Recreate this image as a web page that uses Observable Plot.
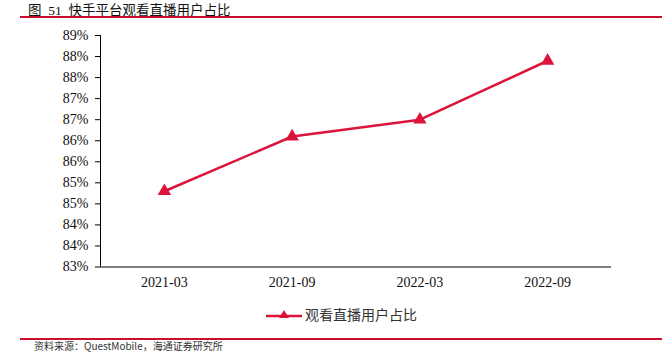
<!DOCTYPE html>
<html><head><meta charset="utf-8">
<script src="https://cdn.jsdelivr.net/npm/d3@7"></script>
<script src="https://cdn.jsdelivr.net/npm/@observablehq/plot@0.6"></script>
<style>
body{margin:0;background:#fff;}
#wrap{position:relative;width:672px;height:354px;overflow:hidden;background:#fff;font-family:"Liberation Serif","Noto Sans CJK SC",serif;}
#title{position:absolute;left:28px;top:-1px;font-size:13.5px;color:#111;font-family:"Liberation Serif","Noto Sans CJK SC",serif;white-space:pre;}
.rl{position:absolute;left:20px;width:642px;height:2px;background:#c8102e;}
#chart{position:absolute;left:0;top:0;}
#chart svg text{font-family:"Liberation Serif",serif !important;}
#legend{position:absolute;left:266px;top:304px;height:20px;display:flex;align-items:center;font-family:"Noto Sans CJK SC",sans-serif;font-size:14px;color:#333;}
#footer{position:absolute;left:34px;top:340px;font-size:10px;line-height:11px;color:#333;font-family:"Noto Sans CJK SC",sans-serif;white-space:pre;}
</style></head>
<body>
<div id="wrap">
<div id="title">图  51  快手平台观看直播用户占比</div>
<div class="rl" style="top:16px"></div>
<div id="chart"></div>
<div id="legend"><svg width="36" height="14"><line x1="0" y1="9" x2="36" y2="9" stroke="#dc143c" stroke-width="2.5"/><path d="M18,3 L23,11 L13,11 Z" fill="#dc143c"/></svg><span style="margin-left:3px">观看直播用户占比</span></div>
<div class="rl" style="top:338px"></div>
<div id="footer">资料来源：QuestMobile，海通证券研究所</div>
</div>
<script>
const categories = ["2021-03", "2021-09", "2022-03", "2022-09"];
const values = [84.8, 86.1, 86.5, 87.9];
const yTicks = [83, 83.5, 84, 84.5, 85, 85.5, 86, 86.5, 87, 87.5, 88, 88.5];
const seriesName = "观看直播用户占比";

const data = categories.map((c, i) => ({i, c, v: values[i]}));
const red = "#dc143c";

const plot = Plot.plot({
  width: 672,
  height: 290,
  marginLeft: 100,
  marginRight: 61,
  marginTop: 35,
  marginBottom: 23.5,
  style: {fontFamily: "'Liberation Serif', serif", fontSize: "14px", color: "#111", background: "transparent"},
  x: {type: "linear", domain: [-0.5, categories.length - 0.5], axis: null},
  y: {domain: [83, 88.5], axis: null},
  marks: [
    Plot.axisX(d3.range(categories.length), {label: null, tickSize: 0, tickPadding: 10, tickFormat: i => categories[i], fontSize: 14}),
    Plot.axisY(yTicks, {label: null, tickSize: 5, tickPadding: 7, tickFormat: v => Math.round(v) + "%", fontSize: 14, stroke: "#000"}),
    Plot.ruleX([-0.5], {stroke: "#000", strokeWidth: 1}),
    Plot.ruleY([83], {stroke: "#000", strokeWidth: 1.2}),
    Plot.line(data, {x: "i", y: "v", stroke: red, strokeWidth: 2.5}),
    Plot.dot(data, {x: "i", y: "v", symbol: "triangle", r: 5, fill: red, stroke: "none"})
  ]
});
document.getElementById("chart").appendChild(plot);
</script>
</body></html>
